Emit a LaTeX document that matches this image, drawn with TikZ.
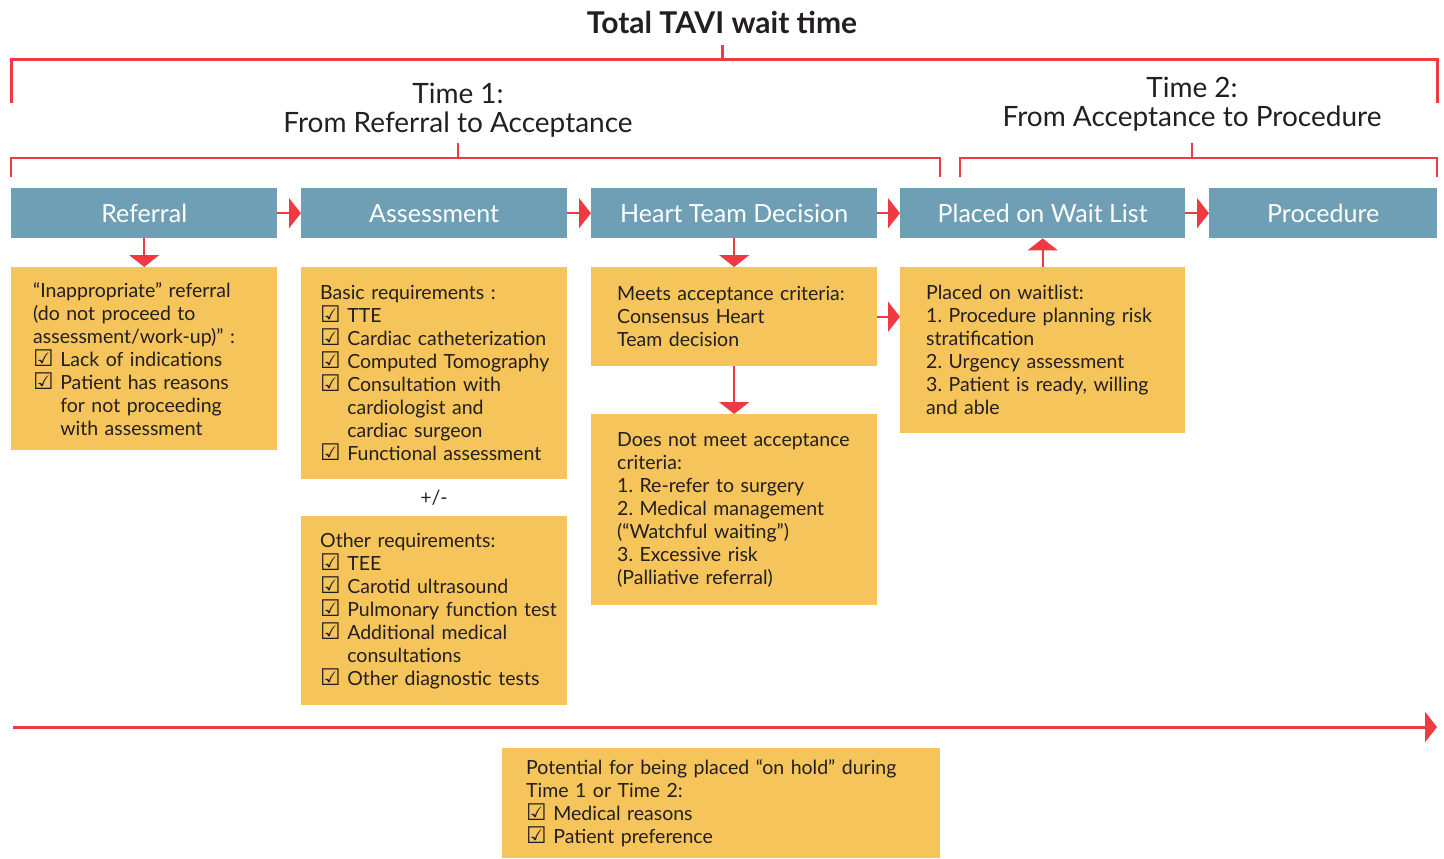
\documentclass[tikz,border=0pt]{standalone}
\usepackage{fontspec}
\setmainfont{Lato}
\newfontfamily\symfont{DejaVu Sans}
\usetikzlibrary{arrows.meta}

\definecolor{hdrblue}{HTML}{6E9FB4}
\definecolor{boxyellow}{HTML}{F5C45A}
\definecolor{linered}{HTML}{EE3A43}
\definecolor{inkdark}{HTML}{231F20}

\newcommand{\chk}{\smash{\symfont\fontsize{23}{23}\selectfont\char"2611}\ }
\newcommand{\chkindent}{\phantom{\chk}}
\frenchspacing

\tikzset{
  hdr/.style={fill=hdrblue, text=white, anchor=north west, minimum height=50pt,
    inner sep=0pt, font=\fontsize{25}{28}\selectfont},
  detail/.style={fill=boxyellow, text=inkdark, anchor=north west, align=left,
    inner xsep=22pt, inner ysep=0pt, text width=#1, font=\fontsize{19.5}{23}\selectfont},
  flow/.style={linered, line width=2pt, -{Triangle[width=30pt,length=12pt]}},
  brace/.style={linered, line width=3pt},
  phase/.style={text=inkdark, align=center, font=\fontsize{28}{29.5}\selectfont},
}

\begin{document}
\begin{tikzpicture}[x=1pt,y=-1pt]
\useasboundingbox (0,0) rectangle (1444,859);

% Title and brackets
\node[text=inkdark, font=\fontsize{30}{32}\selectfont\bfseries] (title) at (722,22) {Total TAVI wait time};
\draw[brace] (11,103) -- (11,60) -- (1437,60) -- (1437,103);
\draw[brace] (722,60) -- (722,45);

\node[phase] (time1) at (458,110) {Time 1:\\From Referral to Acceptance};
\node[phase] (time2) at (1192,104) {Time 2:\\From Acceptance to Procedure};

\draw[brace, line width=2.5pt] (11,177) -- (11,158) -- (940,158) -- (940,177);
\draw[brace, line width=2.5pt] (458,158) -- (458,143);
\draw[brace, line width=2.5pt] (960,177) -- (960,158) -- (1437,158) -- (1437,177);
\draw[brace, line width=2.5pt] (1192,158) -- (1192,143);

% Stage headers
\node[hdr, minimum width=266pt] (referral) at (11,188) {Referral};
\node[hdr, minimum width=266pt] (assess) at (301,188) {Assessment};
\node[hdr, minimum width=286pt] (heart) at (591,188) {Heart Team Decision};
\node[hdr, minimum width=285pt] (waitlist) at (900,188) {Placed on Wait List};
\node[hdr, minimum width=228pt] (proc) at (1209,188) {Procedure};

% Detail boxes
\node[detail=222pt, minimum height=183pt] (refnote) at (11,267)
  {“Inappropriate” referral\\(do not proceed to\\assessment/work-up)” :\\
   \chk Lack of indications\\\chk Patient has reasons\\
   \chkindent for not proceeding\\\chkindent with assessment};
\node[detail=228pt, inner xsep=19pt, minimum height=212pt] (basic) at (301,267)
  {Basic requirements :\\\chk TTE\\\mbox{\chk Cardiac catheterization}\\
   \mbox{\chk Computed Tomography}\\\chk Consultation with\\
   \chkindent cardiologist and\\\chkindent cardiac surgeon\\
   \mbox{\chk Functional assessment}};
\node[text=inkdark, font=\fontsize{19.5}{23}\selectfont] (plusminus) at (434,498) {+/-};
\node[detail=228pt, inner xsep=19pt, minimum height=189pt] (other) at (301,516)
  {Other requirements:\\\chk TEE\\\chk Carotid ultrasound\\
   \mbox{\chk Pulmonary function test}\\\chk Additional medical\\
   \chkindent consultations\\\mbox{\chk Other diagnostic tests}};
\node[detail=234pt, inner xsep=26pt, minimum height=99pt] (meets) at (591,267)
  {Meets acceptance criteria:\\Consensus Heart\\Team decision};
\node[detail=234pt, inner xsep=26pt, minimum height=191pt] (notmeet) at (591,414)
  {Does not meet acceptance\\criteria:\\1. Re-refer to surgery\\
   2. Medical management\\(“Watchful waiting”)\\3. Excessive risk\\
   (Palliative referral)};
\node[detail=233pt, inner xsep=26pt, minimum height=166pt] (waitnote) at (900,267)
  {Placed on waitlist:\\1. Procedure planning risk\\stratification\\
   2. Urgency assessment\\3. Patient is ready, willing\\and able};
\node[detail=390pt, inner xsep=24pt, minimum height=110pt] (hold) at (502,748)
  {Potential for being placed “on hold” during\\Time 1 or Time 2:\\
   \chk Medical reasons\\\chk Patient preference};

% Flow arrows
\draw[flow] (referral.east) -- (assess.west);
\draw[flow] (assess.east) -- (heart.west);
\draw[flow] (heart.east) -- (waitlist.west);
\draw[flow] (waitlist.east) -- (proc.west);
\draw[flow] (referral.south) -- (refnote.north);
\draw[flow] (heart.south) -- (meets.north);
\draw[flow] (meets.south) -- (notmeet.north);
\draw[flow] (meets.east) -- (waitnote.west |- meets.east);
\draw[flow] (waitnote.north) -- (waitlist.south);

% Time line
\coordinate (tlstart) at (13,727);
\coordinate (tlend) at (1437,727);
\draw[flow, line width=3pt] (tlstart) -- (tlend);
\end{tikzpicture}
\end{document}
